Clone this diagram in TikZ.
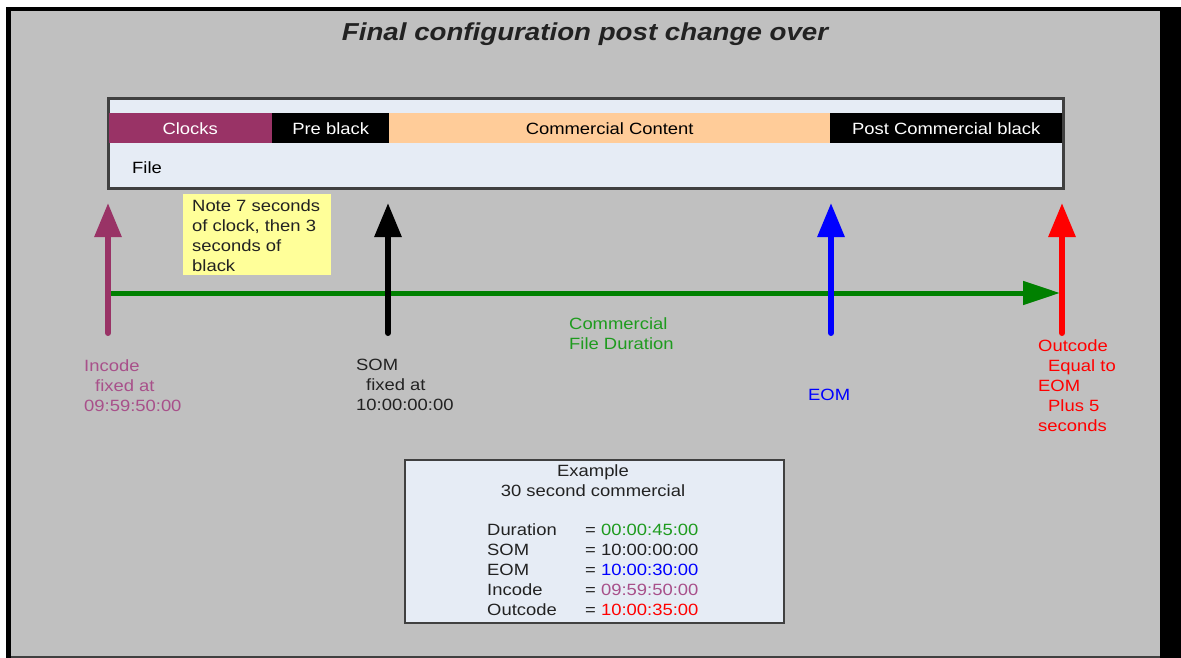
\documentclass[tikz,border=0pt]{standalone}
\usepackage{fontspec}
\setmainfont{Liberation Sans}[FakeStretch=1.13]
\usetikzlibrary{arrows.meta}
\definecolor{bggray}{HTML}{C0C0C0}
\definecolor{plum}{HTML}{993366}
\definecolor{plumtxt}{HTML}{A8508A}
\definecolor{filefill}{HTML}{E6ECF5}
\definecolor{peach}{HTML}{FFCC99}
\definecolor{notefill}{HTML}{FFFF99}
\definecolor{dgreen}{HTML}{008000}
\definecolor{gtxt}{HTML}{1E9B1E}
\definecolor{edgegray}{HTML}{404040}
\definecolor{txtdark}{HTML}{222222}
\begin{document}
\begin{tikzpicture}[x=1pt,y=-1pt,
  txt/.style={inner sep=0pt, font=\fontsize{16.3}{20}\selectfont, text=txtdark},
  mtxt/.style={txt, align=left, anchor=north west},
  bandbox/.style={txt, minimum height=30pt, anchor=north west, text=white},
  marker/.style={line width=6pt, line cap=round, -{Triangle[length=34pt,width=26pt]}},
  spanarrow/.style={line width=5pt, dgreen, -{Triangle[length=37pt,width=23pt]}},
  infobox/.style={draw=edgegray, line width=1.8pt, fill=filefill, inner sep=0pt, anchor=north west},
]
% frame
\useasboundingbox (0,0) rectangle (1181,658);
\fill[white] (0,0) rectangle (1181,658);
\fill[black] (6,7) rectangle (1181,658);
\fill[bggray] (11,11) rectangle (1160,656);
\fill[edgegray] (11,656) rectangle (1160,658);

% title
\node[inner sep=0pt, font=\fontsize{24.5}{28}\selectfont\bfseries\itshape, text=txtdark, anchor=base] (title) at (585,41) {Final configuration post change over};

% file box
\node[infobox, minimum width=954pt, minimum height=89pt] (file) at (108,98) {};
\node[bandbox, fill=plum, minimum width=164pt] (clocks) at (108,113) {Clocks};
\node[bandbox, fill=black, minimum width=117pt] (pre) at (272,113) {Pre black};
\node[bandbox, fill=peach, minimum width=441pt, text=black] (content) at (389,113) {Commercial Content};
\node[bandbox, fill=black, minimum width=232pt] (post) at (830,113) {Post Commercial black};
\draw[edgegray, line width=1.8pt] (file.north west) rectangle (file.south east);
\node[txt, anchor=base west, text=black] (filelbl) at (132,173) {File};

% note
\node[fill=notefill, minimum width=148pt, minimum height=81pt, anchor=north west, inner sep=0pt] (note) at (183,194) {};
\node[mtxt] (notetxt) at (192,199) {Note 7 seconds\\of clock, then 3\\seconds of\\black};

% arrows
\coordinate (spanstart) at (106,293);
\coordinate (spanend) at (1060,293);
\draw[spanarrow] (spanstart) -- (spanend);

\coordinate (inbot) at (108,333);
\coordinate (intop) at (108,203);
\coordinate (sombot) at (388,333);
\coordinate (somtop) at (388,203);
\coordinate (eombot) at (831,333);
\coordinate (eomtop) at (831,203);
\coordinate (outbot) at (1062,333);
\coordinate (outtop) at (1062,203);
\draw[marker, plum] (inbot) -- (intop);
\draw[marker, black] (sombot) -- (somtop);
\draw[marker, blue] (eombot) -- (eomtop);
\draw[marker, red] (outbot) -- (outtop);

% labels
\node[mtxt, text=plumtxt] (inlbl) at (84,359) {Incode\\\hspace*{11pt}fixed at\\09:59:50:00};
\node[mtxt, text=txtdark] (somlbl) at (356,359) {SOM\\\hspace*{10pt}fixed at\\10:00:00:00};
\node[mtxt, text=gtxt] (durlbl) at (569,317) {Commercial\\File Duration};
\node[txt, anchor=base west, text=blue] (eomlbl) at (808,400) {EOM};
\node[mtxt, text=red] (outlbl) at (1038,339) {Outcode\\\hspace*{10pt}Equal to\\EOM\\\hspace*{10pt}Plus 5\\seconds};

% example box
\node[infobox, minimum width=379pt, minimum height=163pt] (example) at (404,459) {};
\node[txt, align=center, anchor=north] (exhead) at (593,464) {Example\\30 second commercial};
\node[mtxt] (exrows) at (487,523) {%
\makebox[98pt][l]{Duration}= \textcolor{gtxt}{00:00:45:00}\\
\makebox[98pt][l]{SOM}= 10:00:00:00\\
\makebox[98pt][l]{EOM}= \textcolor{blue}{10:00:30:00}\\
\makebox[98pt][l]{Incode}= \textcolor{plumtxt}{09:59:50:00}\\
\makebox[98pt][l]{Outcode}= \textcolor{red}{10:00:35:00}};
\end{tikzpicture}
\end{document}
